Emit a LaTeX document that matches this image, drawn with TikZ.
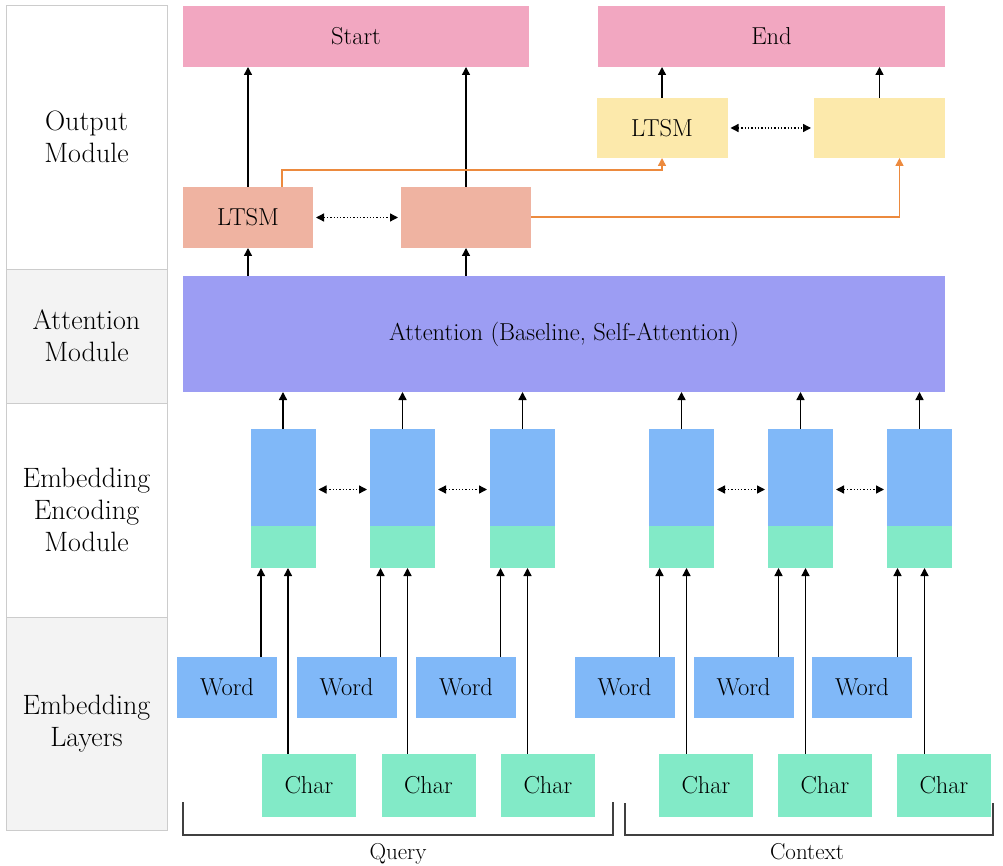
\documentclass[tikz,border=0pt]{standalone}
\usepackage{fontspec}
\setmainfont{Latin Modern Roman}
\usetikzlibrary{arrows.meta,calc}
\definecolor{pinkc}{HTML}{F2A7C1}
\definecolor{salmonc}{HTML}{EFB3A1}
\definecolor{yellowc}{HTML}{FCE9AB}
\definecolor{attc}{HTML}{9C9DF3}
\definecolor{bluec}{HTML}{80B8F8}
\definecolor{greenc}{HTML}{82EAC7}
\definecolor{grayc}{HTML}{F3F3F3}
\definecolor{borderc}{HTML}{CCCCCC}
\definecolor{orangec}{HTML}{EC8A3E}
\begin{document}
\begin{tikzpicture}[x=1pt,y=-1pt,
  box/.style={draw=none,inner sep=0pt,outer sep=0pt,font=\fontsize{24.5}{29}\selectfont},
  lab/.style={draw=borderc,line width=0.8pt,inner sep=0pt,outer sep=0pt,minimum width=161pt,align=center,font=\fontsize{28}{32}\selectfont},
  arr/.style={line width=1.4pt,-{Triangle[length=8pt,width=8pt]}},
  darr/.style={line width=1.3pt,dotted,{Triangle[length=8pt,width=8pt]}-{Triangle[length=8pt,width=8pt]},shorten <=3pt,shorten >=3pt},
  oarr/.style={line width=1.5pt,draw=orangec,-{Triangle[length=8pt,width=8pt]},color=orangec},
  brk/.style={line width=1.3pt,draw=black!75}
]
\useasboundingbox (0,0) rectangle (1003,866);
% left labels
\node[lab,fill=white,minimum height=264pt] (l1) at (86.5,137) {Output\\Module};
\node[lab,fill=grayc,minimum height=134pt] (l2) at (86.5,336) {Attention\\Module};
\node[lab,fill=white,minimum height=214pt] (l3) at (86.5,510) {Embedding\\Encoding\\Module};
\node[lab,fill=grayc,minimum height=213pt] (l4) at (86.5,723.5) {Embedding\\Layers};
% output
\node[box,fill=pinkc,minimum width=346pt,minimum height=61pt] (start) at (356,36.5) {Start};
\node[box,fill=pinkc,minimum width=347pt,minimum height=61pt] (end) at (771.5,36.5) {End};
\node[box,fill=salmonc,minimum width=130pt,minimum height=61pt] (s1) at (248,217.5) {LTSM};
\node[box,fill=salmonc,minimum width=130pt,minimum height=61pt] (s2) at (466,217.5) {};
\node[box,fill=yellowc,minimum width=131pt,minimum height=60pt] (y1) at (662,128) {LTSM};
\node[box,fill=yellowc,minimum width=131pt,minimum height=60pt] (y2) at (879.5,128) {};
\node[box,fill=attc,minimum width=762pt,minimum height=116pt] (att) at (564,334) {Attention (Baseline, Self-Attention)};
% encoders, words, chars
\foreach \i/\ex/\wx/\cx in {1/283/227/309, 2/402.5/346.5/428.5, 3/522.5/466/548, 4/681.5/624.5/706, 5/800.5/743.5/825, 6/919.5/862/944}{
  \node[box,fill=bluec,minimum width=65pt,minimum height=97pt] (e\i) at (\ex,477.5) {};
  \node[box,fill=greenc,minimum width=65pt,minimum height=42pt] (g\i) at (\ex,547) {};
  \node[box,fill=bluec,minimum width=100pt,minimum height=61pt] (w\i) at (\wx,687.5) {Word};
  \node[box,fill=greenc,minimum width=94pt,minimum height=63pt] (c\i) at (\cx,785) {Char};
  \coordinate (ga\i) at ([xshift=-22pt]g\i.south);
  \coordinate (gb\i) at ([xshift=5pt]g\i.south);
  \draw[arr] (ga\i |- w\i.north) -- (ga\i);
  \draw[arr] (gb\i |- c\i.north) -- (gb\i);
  \draw[arr] (e\i.north) -- (e\i.north |- att.south);
}
\foreach \a/\b in {1/2,2/3,4/5,5/6}{
  \draw[darr] ([yshift=-12pt]e\a.east) -- ([yshift=-12pt]e\b.west);
}
% attention to lstm
\draw[arr] (s1.south |- att.north) -- (s1.south);
\draw[arr] (s2.south |- att.north) -- (s2.south);
\draw[arr] (s1.north) -- (s1.north |- start.south);
\draw[arr] (s2.north) -- (s2.north |- start.south);
\draw[arr] (y1.north) -- (y1.north |- end.south);
\draw[arr] (y2.north) -- (y2.north |- end.south);
\draw[darr] (s1.east) -- (s2.west);
\draw[darr] (y1.east) -- (y2.west);
% orange
\coordinate (o1) at ([xshift=34pt]s1.north);
\coordinate (o2) at ([xshift=20pt]y2.south);
\coordinate (o3) at ([yshift=0.5pt]s2.east);
\draw[oarr] (o1) -- ++(0,-17) -| (y1.south);
\draw[oarr] (o3) -| (o2);
% brackets
\coordinate (qa) at (183,802);
\coordinate (qb) at (613,802);
\coordinate (ca) at (625,803);
\coordinate (cb) at (993,803);
\draw[brk] (qa) -- (183,835) -- (613,835) -- (qb);
\draw[brk] (ca) -- (625,835) -- (993,835) -- (cb);
\node[box,anchor=base,font=\fontsize{23}{27}\selectfont] (q) at (398,859) {Query};
\node[box,anchor=base,font=\fontsize{23}{27}\selectfont] (ctx) at (807,859) {Context};
\end{tikzpicture}
\end{document}
